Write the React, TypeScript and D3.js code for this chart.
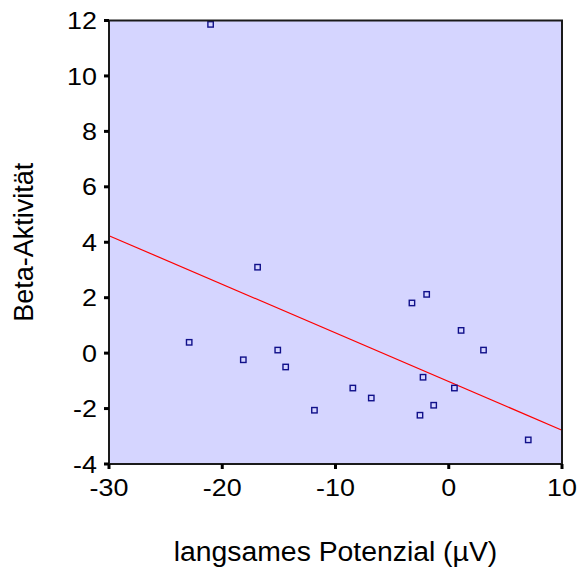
import React from "react";
import * as d3 from "d3";

const xValues = [-21.03, -16.88, -22.92, -18.14, -15.1, -14.4, -11.86, -1.95, -3.25, 1.09, 3.07, -2.27, 0.5, -8.47, -6.84, -1.33, -2.54, 7.02];
const yValues = [11.86, 3.1, 0.39, -0.24, 0.11, -0.5, -2.06, 2.12, 1.81, 0.82, 0.11, -0.87, -1.26, -1.26, -1.62, -1.88, -2.24, -3.13];
const xTicks = [-30, -20, -10, 0, 10];
const yTicks = [-4, -2, 0, 2, 4, 6, 8, 10, 12];
const xTitle = "langsames Potenzial (µV)";
const yTitle = "Beta-Aktivität";

const W = 579, H = 572;
const L = 109, R = 562, T = 20.5, B = 464;

export default function App() {
  const x = d3.scaleLinear().domain([-30, 10]).range([L, R]);
  const y = d3.scaleLinear().domain([-4, 12]).range([B, T]);
  const mx = d3.mean(xValues)!;
  const my = d3.mean(yValues)!;
  let sxy = 0, sxx = 0;
  xValues.forEach((v, i) => { sxy += (v - mx) * (yValues[i] - my); sxx += (v - mx) * (v - mx); });
  const slope = sxy / sxx;
  const icpt = my - slope * mx;
  const line = d3.line<number>().x((d) => x(d)).y((d) => y(icpt + slope * d));
  const font = "'Liberation Sans', Arial, Helvetica, sans-serif";
  return (
    <svg width={W} height={H} style={{ position: "absolute", left: 0, top: 0 }} fontFamily={font}>
      <rect x={0} y={0} width={W} height={H} fill="#fff" />
      <rect x={L} y={T} width={R - L} height={B - T} fill="#D5D5FF" />
      <path d={line([-30, 10]) || ""} stroke="#ff0000" strokeWidth={1.2} fill="none" />
      {xValues.map((v, i) => (
        <rect key={i} x={x(v) - 2.7} y={y(yValues[i]) - 2.7} width={5.4} height={5.4} fill="none" stroke="#10108a" strokeWidth={1.4} />
      ))}
      <rect x={L} y={T} width={R - L} height={B - T} fill="none" stroke="#1a1a1a" strokeWidth={2} />
      {yTicks.map((t) => (
        <g key={"y" + t}>
          <line x1={L - 5} x2={L} y1={y(t)} y2={y(t)} stroke="#000" strokeWidth={3} />
          <text x={97} y={y(t)} dy="0.36em" textAnchor="end" fontSize={24} fill="#000" transform={`translate(97,0) scale(1.12,1) translate(-97,0)`}>{t}</text>
        </g>
      ))}
      {xTicks.map((t) => (
        <g key={"x" + t}>
          <line x1={x(t)} x2={x(t)} y1={B} y2={B + 5} stroke="#000" strokeWidth={3} />
          <text x={x(t)} y={496} textAnchor="middle" fontSize={24} fill="#000" transform={`translate(${x(t)},0) scale(1.12,1) translate(${-x(t)},0)`}>{t}</text>
        </g>
      ))}
      <text x={(L + R) / 2} y={561.5} textAnchor="middle" fontSize={27} fill="#000" transform={`translate(${(L + R) / 2},0) scale(1.05,1) translate(${-(L + R) / 2},0)`}>{xTitle}</text>
      <text transform={`translate(33,${(T + B) / 2}) rotate(-90)`} textAnchor="middle" fontSize={27} fill="#000">{yTitle}</text>
    </svg>
  );
}
